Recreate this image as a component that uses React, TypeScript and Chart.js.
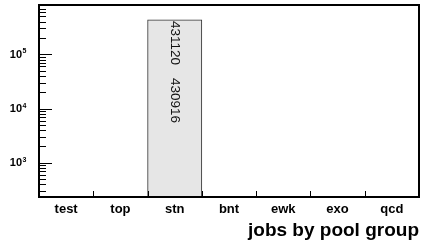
import React, { useEffect, useRef } from "react";
import { Chart, registerables } from "chart.js";

Chart.register(...registerables);

const categories = ["test", "top", "stn", "bnt", "ewk", "exo", "qcd"];
const jobCounts = [0, 0, 431120, 0, 0, 0, 0];
const secondCounts = [0, 0, 430916, 0, 0, 0, 0];
const yPowers = [3, 4, 5];
const yMin = 233;
const yMax = 813000;
const axisTitle = "jobs by pool group";

const FONT = "'Liberation Sans', Arial, Helvetica, sans-serif";

const framePlugin = {
  id: "framePlugin",
  afterDatasetsDraw(chart: any) {
    const ctx = chart.ctx;
    const area = chart.chartArea;
    const xs = chart.scales.x;
    const ys = chart.scales.y;
    ctx.save();
    // bar value labels
    const meta = chart.getDatasetMeta(0);
    meta.data.forEach((el: any, i: number) => {
      const v = jobCounts[i];
      if (!v) return;
      ctx.save();
      ctx.translate(el.x, el.y);
      ctx.rotate(Math.PI / 2);
      ctx.fillStyle = "#111";
      ctx.font = `13.5px ${FONT}`;
      ctx.textAlign = "left";
      ctx.textBaseline = "middle";
      const a = String(v);
      ctx.fillText(a, 1, 0);
      const w = ctx.measureText(a).width;
      ctx.fillText(String(secondCounts[i]), 1 + w + 13, 0);
      ctx.restore();
    });

    // y ticks
    ctx.strokeStyle = "#000";
    ctx.lineWidth = 1;
    for (let k = 1; k <= 6; k++) {
      for (let m = 1; m <= 9; m++) {
        const v = m * Math.pow(10, k);
        if (v < yMin || v > yMax) continue;
        const y = Math.round(ys.getPixelForValue(v)) + 0.5;
        const len = m === 1 ? 13 : 7;
        ctx.beginPath();
        ctx.moveTo(area.left, y);
        ctx.lineTo(area.left + len, y);
        ctx.stroke();
      }
    }
    // x ticks at category boundaries
    for (let i = 1; i < categories.length; i++) {
      const x = Math.round((xs.getPixelForValue(i - 1) + xs.getPixelForValue(i)) / 2) + 0.5;
      ctx.beginPath();
      ctx.moveTo(x, area.bottom);
      ctx.lineTo(x, area.bottom - 6);
      ctx.stroke();
    }
    // y labels with superscripts
    ctx.fillStyle = "#000";
    yPowers.forEach((p) => {
      const y = ys.getPixelForValue(Math.pow(10, p));
      ctx.font = `bold 11px ${FONT}`;
      ctx.textAlign = "right";
      ctx.textBaseline = "alphabetic";
      ctx.fillText("10", 22, y + 3.5);
      ctx.font = `bold 7px ${FONT}`;
      ctx.textAlign = "left";
      ctx.fillText(String(p), 22.5, y - 1);
    });
    // frame
    ctx.lineWidth = 2;
    ctx.strokeStyle = "#000";
    ctx.strokeRect(area.left, area.top, area.right - area.left, area.bottom - area.top);
    ctx.restore();
  },
};

export default function App() {
  const ref = useRef<HTMLCanvasElement | null>(null);
  useEffect(() => {
    if (!ref.current) return;
    const chart = new Chart(ref.current, {
      type: "bar",
      data: {
        labels: categories,
        datasets: [
          {
            data: jobCounts.map((v) => (v > 0 ? v : null)) as any,
            backgroundColor: "#e6e6e6",
            borderColor: "#333333",
            borderWidth: 1,
            borderSkipped: false,
            barPercentage: 1,
            categoryPercentage: 1,
          },
        ],
      },
      options: {
        responsive: false,
        animation: false,
        layout: { padding: { top: 5, right: 2, left: 0, bottom: 0 } },
        plugins: { legend: { display: false }, tooltip: { enabled: false } },
        scales: {
          x: {
            grid: { display: false, drawTicks: false },
            border: { display: false },
            ticks: {
              color: "#000",
              font: { family: FONT, size: 13, weight: "bold" },
              padding: 5,
              maxRotation: 0,
              autoSkip: false,
            },
            title: {
              display: true,
              text: axisTitle,
              align: "end",
              color: "#000",
              font: { family: FONT, size: 19, weight: "bold" },
              padding: { top: 0, bottom: 0 },
            },
            afterFit: (s: any) => {
              s.height = 45;
            },
          },
          y: {
            type: "logarithmic",
            min: yMin,
            max: yMax,
            grid: { display: false, drawTicks: false },
            border: { display: false },
            ticks: { display: false },
            afterFit: (s: any) => {
              s.width = 39;
            },
          },
        },
      },
      plugins: [framePlugin],
    });
    return () => chart.destroy();
  }, []);
  return (
    <div style={{ position: "fixed", left: 0, top: 0, width: 421, height: 242, background: "#fff" }}>
      <canvas ref={ref} width={421} height={242} />
    </div>
  );
}
